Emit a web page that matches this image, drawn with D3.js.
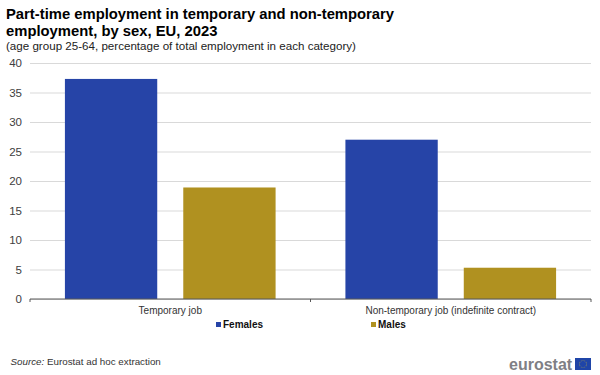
<!DOCTYPE html>
<html><head><meta charset="utf-8">
<script src="https://cdn.jsdelivr.net/npm/d3@7"></script>
<style>html,body{margin:0;padding:0;background:#fff}svg{display:block}text{font-family:"Liberation Sans",Arial,sans-serif}</style>
</head><body><svg id="c" width="600" height="375"></svg>
<script>
const categories = ["Temporary job", "Non-temporary job (indefinite contract)"];
const seriesNames = ["Females", "Males"];
const females = [37.3, 27.0];
const males = [18.9, 5.3];
const yTicks = [0, 5, 10, 15, 20, 25, 30, 35, 40];
const titleLines = ["Part-time employment in temporary and non-temporary", "employment, by sex, EU, 2023"];
const subtitle = "(age group 25-64, percentage of total employment in each category)";
const colors = ["#2644a7", "#b09120"];

const svg = d3.select("#c");
const x0 = 30, x1 = 591, yTop = 63, yBot = 299;
const y = d3.scaleLinear().domain([0, 40]).range([yBot, yTop]);
const xc = d3.scaleBand().domain(categories).range([x0, x1]);
const xs = d3.scaleBand().domain(seriesNames).range([0, xc.bandwidth()]).paddingInner(0.22).paddingOuter(0.295);

titleLines.forEach((t, i) => svg.append("text").attr("x", 6).attr("y", 19 + i * 16.5)
  .attr("font-size", 14.8).attr("font-weight", "bold").attr("fill", "#000").text(t));
svg.append("text").attr("x", 6).attr("y", 50).attr("font-size", 11.6).attr("fill", "#222").text(subtitle);

const gridAxis = d3.axisLeft(y).tickValues(yTicks).tickSize(-(x1 - x0)).tickFormat(d => d);
const gy = svg.append("g").attr("transform", `translate(${x0},0)`).call(gridAxis);
gy.select(".domain").remove();
gy.selectAll(".tick line").attr("stroke", "#d9d9d9").attr("stroke-width", 1);
gy.selectAll(".tick text").attr("x", -8).attr("font-size", 11.5).attr("fill", "#404040")
  .style("font-family", '"Liberation Sans",Arial,sans-serif');

[females, males].forEach((vals, si) => {
  svg.append("g").selectAll("rect").data(vals).join("rect")
    .attr("x", (d, i) => xc(categories[i]) + xs(seriesNames[si]))
    .attr("width", xs.bandwidth())
    .attr("y", d => y(d))
    .attr("height", d => yBot - y(d))
    .attr("fill", colors[si]);
});

const gx = svg.append("g").attr("transform", `translate(0,${yBot})`)
  .call(d3.axisBottom(xc).tickSize(0).tickPadding(8));
gx.select(".domain").remove();
gx.selectAll(".tick text").attr("font-size", 10).attr("fill", "#333")
  .style("font-family", '"Liberation Sans",Arial,sans-serif');
svg.append("line").attr("x1", x0).attr("x2", x1).attr("y1", yBot).attr("y2", yBot).attr("stroke", "#595959").attr("stroke-width", 1);
const boundaries = [x0, xc(categories[1]), x1];
svg.append("g").selectAll("line").data(boundaries).join("line")
  .attr("x1", d => d).attr("x2", d => d).attr("y1", yBot).attr("y2", yBot + 3)
  .attr("stroke", "#595959");

const legX = [216, 371];
seriesNames.forEach((n, i) => {
  svg.append("rect").attr("x", legX[i]).attr("y", 322).attr("width", 5).attr("height", 5).attr("fill", colors[i]);
  svg.append("text").attr("x", legX[i] + 7).attr("y", 328).attr("font-size", 10).attr("font-weight", "bold").attr("fill", "#111").text(n);
});

const src = svg.append("text").attr("x", 10.5).attr("y", 365).attr("font-size", 9.8).attr("fill", "#333");
src.append("tspan").attr("font-style", "italic").text("Source:");
src.append("tspan").text(" Eurostat ad hoc extraction");

svg.append("text").attr("x", 509).attr("y", 370).attr("font-size", 16).attr("font-weight", "bold").attr("fill", "#7f7f85").text("eurostat");
svg.append("rect").attr("x", 575).attr("y", 358).attr("width", 16).attr("height", 12).attr("fill", "#1f45a8");
const stars = d3.range(12).map(i => i * Math.PI / 6);
svg.append("g").selectAll("circle").data(stars).join("circle")
  .attr("cx", d => 583 + 3.6 * Math.cos(d)).attr("cy", d => 364 + 3.6 * Math.sin(d)).attr("r", 0.45).attr("fill", "#c9b53a");
</script></body></html>
